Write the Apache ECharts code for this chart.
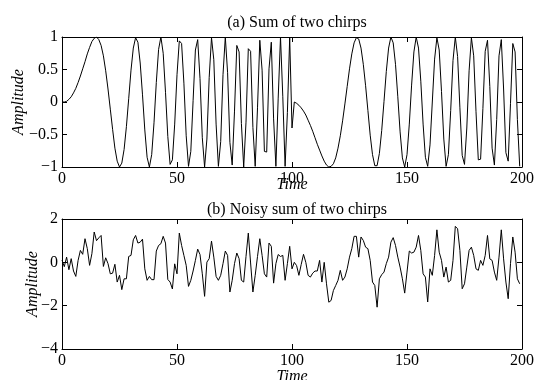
<!DOCTYPE html>
<html>
<head>
<meta charset="utf-8">
<script src="https://cdn.jsdelivr.net/npm/echarts@6/dist/echarts.min.js"></script>
<style>
  html, body { margin: 0; padding: 0; background: #ffffff; }
  #chart { width: 535px; height: 380px; }
</style>
</head>
<body>
<div id="chart"></div>
<script>
// values, one sample per time step starting at 0
const cleanChirps = [
  0, 0, 0.01, 0.04, 0.08, 0.14, 0.21, 0.30, 0.40, 0.51,
  0.62, 0.74, 0.84, 0.93, 0.98, 1.0, 0.96, 0.87, 0.71, 0.48,
  0.20, -0.11, -0.42, -0.71, -0.91, -1.0, -0.94, -0.73, -0.38, 0.05,
  0.49, 0.83, 0.99, 0.92, 0.60, 0.11, -0.43, -0.85, -1.0, -0.81,
  -0.32, 0.30, 0.81, 1.0, 0.75, 0.15, -0.53, -0.96, -0.89, -0.34,
  0.42, 0.94, 0.90, 0.29, -0.52, -0.99, -0.76, 0.02, 0.80, 0.96,
  0.36, -0.55, -1.0, -0.57, 0.38, 0.99, 0.65, -0.34, -0.99, -0.61,
  0.42, 1.0, 0.45, -0.62, -0.97, -0.14, 0.87, 0.77, -0.33, -1.0,
  -0.31, 0.82, 0.78, -0.39, -0.99, -0.09, 0.95, 0.49, -0.76, -0.77,
  0.51, 0.92, -0.26, -0.99, 0.06, 1.0, 0.08, -0.99, -0.16, 0.99,
  -0.4, 0, -0.02, -0.05, -0.09, -0.14, -0.2, -0.28, -0.36, -0.45,
  -0.55, -0.65, -0.74, -0.83, -0.91, -0.97, -1.0, -0.99, -0.95, -0.86,
  -0.71, -0.52, -0.29, -0.03, 0.24, 0.51, 0.74, 0.91, 0.99, 0.97,
  0.83, 0.58, 0.25, -0.13, -0.51, -0.81, -0.98, -0.98, -0.79, -0.44,
  0.01, 0.47, 0.83, 1.0, 0.91, 0.58, 0.08, -0.46, -0.86, -1.0,
  -0.81, -0.34, 0.26, 0.77, 1.0, 0.83, 0.32, -0.34, -0.85, -0.99,
  -0.66, 0.0, 0.66, 0.99, 0.80, 0.16, -0.57, -0.99, -0.81, -0.13,
  0.64, 1.0, 0.70, -0.09, -0.82, -0.96, -0.40, 0.48, 0.99, 0.71,
  -0.15, -0.89, -0.88, -0.10, 0.78, 0.95, 0.24, -0.71, -0.97, -0.27,
  0.71, 0.96, 0.20, -0.78, -0.91, -0.02, 0.90, 0.77, -0.27, -0.99
];

const noisyChirps = [
  0.1, -0.2, 0.24, -0.34, 0.17, -0.4, -0.65, 0.09, 0.55, 0.37,
  1.09, 0.63, -0.14, 0.4, 1.4, 1.0, 1.13, 1.24, -0.19, 0.21,
  -0.06, -0.53, -0.5, -0.09, -0.91, -0.6, -1.26, -0.76, -0.76, 0.27,
  0.32, 1.04, 1.24, 0.89, 0.93, 1.07, -0.3, -0.83, -0.65, -0.8,
  -0.8, 0.52, 0.78, 0.86, 1.2, 0.89, -0.79, -0.91, -1.23, -0.07,
  -0.53, 1.35, 0.78, 0.32, -0.14, -1.11, -0.83, -0.4, 0.09, 0.61,
  0.36, -0.53, -1.57, 0.01, 0.17, 0.98, 0.24, -0.65, -0.83, -0.6,
  -0.06, 0.52, 0.32, -1.37, -0.83, -0.06, 0.43, 0.17, -0.83, -0.91,
  0.27, 1.35, -0.03, -1.37, -0.6, 0.27, 1.09, 0.32, -0.53, -0.68,
  0.89, 0.74, -0.96, -0.06, 0.36, 0.27, 0.32, -0.83, -0.06, 0.74,
  -0.3, 0.0, -0.15, -0.6, -0.1, 0.37, 0.0, -0.6, -0.68, -0.5,
  -0.4, -0.4, 0.09, -0.91, 0.0, -0.99, -1.84, -1.76, -1.3, -1.07,
  -0.83, -0.37, -0.83, -0.68, -0.3, 0.24, 0.63, 1.2, 1.2, 0.24,
  1.17, 1.01, 0.7, 0.63, 0.09, -0.91, -1.07, -2.07, -0.76, -0.57,
  -0.45, -0.06, 0.24, 0.93, 1.14, 0.78, 0.24, -0.22, -0.76, -1.42,
  -0.45, 0.52, 0.43, 0.47, 0.7, 1.24, 0.55, -0.53, -0.68, -1.83,
  -0.3, -0.6, 0.32, 1.5, 0.47, 0.09, -0.68, -0.22, -0.91, -0.83,
  0.09, 1.66, 1.55, 0.55, -1.22, -0.99, -0.22, 0.55, 0.7, 0.32,
  -0.3, -0.37, 0.09, -0.14, 0.32, 1.24, 0.16, 0.09, -0.45, -0.83,
  0.24, 1.5, 0.16, -0.91, -1.68, -0.06, 1.17, 0.47, -0.76, -0.99
];

const timeTicks = [0, 50, 100, 150, 200];
const topTicks = [-1, -0.5, 0, 0.5, 1];
const bottomTicks = [-4, -2, 0, 2];
const titles = ["(a) Sum of two chirps", "(b) Noisy sum of two chirps"];

const serif = "Liberation Serif";
const minusSign = (v) => String(v).replace("-", "\u2212");

function pairs(values) {
  return values.map((v, i) => [i, v]);
}

function xAxisFor(grid, position, withLabels, nameGap) {
  return {
    type: "value",
    gridIndex: grid,
    position: position,
    min: timeTicks[0],
    max: timeTicks[timeTicks.length - 1],
    interval: timeTicks[1] - timeTicks[0],
    name: withLabels ? "Time" : "",
    nameLocation: "middle",
    nameGap: nameGap,
    nameMoveOverlap: false,
    nameTextStyle: { fontFamily: serif, fontStyle: "italic", fontSize: 16, color: "#000" },
    axisLine: { show: true, onZero: false, lineStyle: { color: "#000", width: 1 } },
    axisTick: { show: true, inside: true, length: 5, lineStyle: { color: "#000" } },
    axisLabel: { show: withLabels, fontFamily: serif, fontSize: 16, color: "#000", margin: 4 },
    splitLine: { show: false }
  };
}

function yAxisFor(grid, position, ticks, withLabels, nameGap) {
  return {
    type: "value",
    gridIndex: grid,
    position: position,
    min: ticks[0],
    max: ticks[ticks.length - 1],
    interval: ticks[1] - ticks[0],
    name: withLabels ? "Amplitude" : "",
    nameLocation: "middle",
    nameRotate: 90,
    nameGap: nameGap,
    nameMoveOverlap: false,
    nameTextStyle: { fontFamily: serif, fontStyle: "italic", fontSize: 16, color: "#000" },
    axisLine: { show: true, onZero: false, lineStyle: { color: "#000", width: 1 } },
    axisTick: { show: true, inside: true, length: 5, lineStyle: { color: "#000" } },
    axisLabel: {
      show: withLabels, fontFamily: serif, fontSize: 16, color: "#000", margin: 4,
      formatter: minusSign
    },
    splitLine: { show: false }
  };
}

const chart = echarts.init(document.getElementById("chart"), null, { renderer: "canvas" });

chart.setOption({
  animation: false,
  backgroundColor: "#ffffff",
  title: [
    {
      text: titles[0], left: 292, top: 10, textAlign: "center",
      textStyle: { fontFamily: serif, fontWeight: "normal", fontSize: 16, color: "#000" }
    },
    {
      text: titles[1], left: 292, top: 197, textAlign: "center",
      textStyle: { fontFamily: serif, fontWeight: "normal", fontSize: 16, color: "#000" }
    }
  ],
  grid: [
    { left: 62, right: 13, top: 37, height: 130, outerBoundsMode: "none" },
    { left: 62, right: 13, top: 219, height: 130, outerBoundsMode: "none" }
  ],
  xAxis: [
    xAxisFor(0, "bottom", true, 10),
    xAxisFor(0, "top", false, 0),
    xAxisFor(1, "bottom", true, 20),
    xAxisFor(1, "top", false, 0)
  ],
  yAxis: [
    yAxisFor(0, "left", topTicks, true, 35),
    yAxisFor(0, "right", topTicks, false, 0),
    yAxisFor(1, "left", bottomTicks, true, 21),
    yAxisFor(1, "right", bottomTicks, false, 0)
  ],
  series: [
    {
      type: "line",
      xAxisIndex: 0,
      yAxisIndex: 0,
      showSymbol: false,
      lineStyle: { color: "#000", width: 1 },
      data: pairs(cleanChirps)
    },
    {
      type: "line",
      xAxisIndex: 2,
      yAxisIndex: 2,
      showSymbol: false,
      lineStyle: { color: "#000", width: 1 },
      data: pairs(noisyChirps)
    }
  ]
});
</script>
</body>
</html>
